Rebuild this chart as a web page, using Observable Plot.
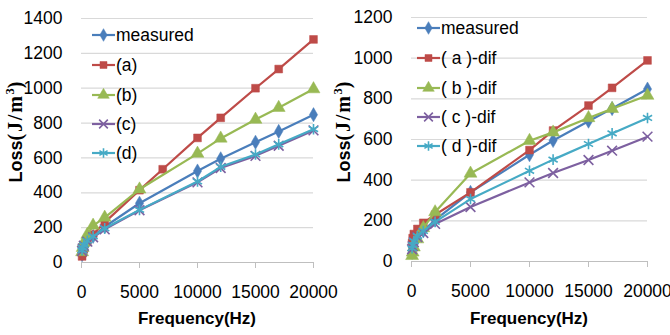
<!DOCTYPE html>
<html><head><meta charset="utf-8">
<script src="https://cdn.jsdelivr.net/npm/d3@7"></script>
<script src="https://cdn.jsdelivr.net/npm/@observablehq/plot@0.6"></script>
<style>
body{margin:0;background:#fff}
#wrap{position:relative;width:670px;height:335px;overflow:hidden}
#wrap svg{position:absolute;top:0}
</style>
</head><body><div id="wrap"></div>
<script>
// ---------- data ----------
const freq   = [50,100,200,500,1000,2000,5000,10000,12000,15000,17000,20000];
const freqA  = [50,100,200,500,1000,2000,5000,7000,10000,12000,15000,17000,20000];

const measured = [45,65,85,115,150,205,340,525,595,690,752,848];

// left chart
const lossA = [35,55,80,120,160,230,415,535,715,830,1000,1110,1280];
const lossB = [60,85,115,160,212,258,420,625,712,820,888,995];
const lossC = [66,80,96,120,145,190,300,460,542,612,670,758];
const lossD = [70,85,100,125,150,196,302,465,549,620,678,765];

// right chart
const difA = [90,115,135,160,190,230,340,548,644,767,854,989];
const difB = [28,45,70,110,165,243,433,594,635,706,751,816];
const difC = [60,75,95,120,140,185,268,389,435,499,545,614];
const difD = [65,80,100,125,150,195,307,446,501,578,630,706];

const xTicks = [0,5000,10000,15000,20000];
const yTicksLeft  = [0,200,400,600,800,1000,1200,1400];
const yTicksRight = [0,200,400,600,800,1000,1200];

const namesLeft  = ["measured","(a)","(b)","(c)","(d)"];
const namesRight = ["measured","( a )-dif","( b )-dif","( c )-dif","( d )-dif"];

// ---------- style ----------
const colors  = ["#4A7EBB","#BE4B48","#98B954","#7D60A0","#46AAC5"];
const symbols = ["diamond","square","triangle","times","asterisk"];
const d3syms  = [d3.symbolDiamond,d3.symbolSquare,d3.symbolTriangle,d3.symbolTimes||d3.symbolX,d3.symbolAsterisk];
const filled  = [true,true,true,false,false];
const radius  = [4.3,4.4,4.8,4.5,5];
const FONT = "'Liberation Sans', Arial, sans-serif";
const SERIF = "'Liberation Serif', 'DejaVu Serif', serif";

function chart(cfg){
  const series = cfg.series;
  const marks = [
    Plot.gridY(cfg.yTicks, {stroke:"#d9d9d9", strokeOpacity:1, strokeWidth:1.2}),
    Plot.ruleY([0], {stroke:"#bfbfbf", strokeWidth:1.2}),
    Plot.axisY({ticks: cfg.yTicks, tickSize:0, tickPadding:19, label:null, fontSize:17.5, tickFormat:d=>String(d)}),
    Plot.axisX({ticks: xTicks, tickSize:6, tickPadding:17, stroke:"#bfbfbf", label:null, fontSize:17.5, tickFormat:d=>String(d)})
  ];
  series.forEach((s,k)=>{
    const rows = s.x.map((x,i)=>({x, y:s.y[i]}));
    marks.push(Plot.line(rows,{x:"x",y:"y",stroke:colors[k],strokeWidth:2.2}));
    marks.push(Plot.dot(rows,{x:"x",y:"y",symbol:()=>symbols[k],r:radius[k],
      fill: filled[k]?colors[k]:"none", stroke: colors[k], strokeWidth: filled[k]?0.5:1.6}));
  });
  const svg = Plot.plot({
    width:335, height:335,
    marginLeft:cfg.ml, marginRight:cfg.mr, marginTop:cfg.mt, marginBottom:cfg.mb,
    style:{fontFamily:FONT, fontSize:"17.5px", color:"#000", background:"transparent", overflow:"visible"},
    x:{domain:[0,20000]},
    y:{domain:[0,cfg.yMax]},
    marks
  });
  svg.style.left = cfg.left+"px";
  const s = d3.select(svg);
  // x label
  s.append("text").attr("x", cfg.ml + (335-cfg.ml-cfg.mr)/2).attr("y", 324)
    .attr("text-anchor","middle").attr("font-weight","bold").attr("font-size",17)
    .attr("font-family",FONT).attr("fill","#000").text("Frequency(Hz)");
  // y label
  const yl = s.append("text").attr("transform",`translate(${cfg.ylx},${cfg.yly}) rotate(-90)`)
    .attr("text-anchor","middle").attr("font-weight","bold").attr("fill","#000");
  yl.append("tspan").attr("font-family",FONT).attr("font-size",18).text("Loss");
  yl.append("tspan").attr("font-family",SERIF).attr("font-size",20).attr("letter-spacing",1.8).text("(J/m");
  yl.append("tspan").attr("font-family",SERIF).attr("font-size",12.5).attr("dy",-8).text("3");
  yl.append("tspan").attr("font-family",SERIF).attr("font-size",20).attr("dy",8).text(")");
  // legend
  const g = s.append("g");
  cfg.names.forEach((n,k)=>{
    const y = cfg.legY[k];
    g.append("line").attr("x1",cfg.legX).attr("x2",cfg.legX+23).attr("y1",y).attr("y2",y)
      .attr("stroke",colors[k]).attr("stroke-width",2.2);
    g.append("path").attr("d", d3.symbol(d3syms[k], Math.PI*radius[k]*radius[k]*0.8)())
      .attr("transform",`translate(${cfg.legX+11.5},${y})`)
      .attr("fill", filled[k]?colors[k]:"none").attr("stroke",colors[k]).attr("stroke-width",filled[k]?0.5:1.6);
    g.append("text").attr("x",cfg.legX+24).attr("y",y).attr("dy","0.35em")
      .attr("text-anchor","start")
      .attr("font-family",FONT).attr("font-size",17.5).attr("fill","#000").text(n);
  });
  return svg;
}

const wrap = document.getElementById("wrap");
wrap.appendChild(chart({
  left:0, ml:81, mr:22, mt:18, mb:73, yMax:1400, yTicks:yTicksLeft,
  names:namesLeft, legX:92, legY:[35,65,95,124,153], ylx:22, yly:132,
  series:[
    {x:freq,y:measured},{x:freqA,y:lossA},{x:freq,y:lossB},{x:freq,y:lossC},{x:freq,y:lossD}
  ]
}));
wrap.appendChild(chart({
  left:335, ml:76, mr:23, mt:17, mb:74, yMax:1200, yTicks:yTicksRight,
  names:namesRight, legX:82, legY:[28,58,88,117,146], ylx:15, yly:132,
  series:[
    {x:freq,y:measured},{x:freq,y:difA},{x:freq,y:difB},{x:freq,y:difC},{x:freq,y:difD}
  ]
}));
</script></body></html>
